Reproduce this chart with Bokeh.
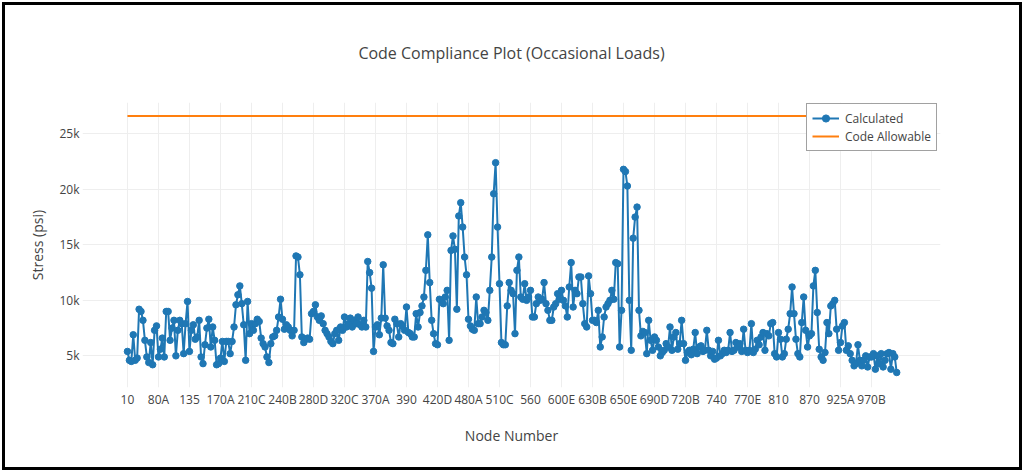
from bokeh.plotting import figure
from bokeh.models import Range1d, FixedTicker, Legend, LegendItem
from bokeh.embed import file_html
from bokeh.resources import INLINE

# ---- data ----
node_ticks = ["10", "80A", "135", "170A", "210C", "240B", "280D", "320C", "370A",
              "390", "420D", "480A", "510C", "560", "600E", "630B", "650E", "690D",
              "720B", "740", "770E", "810", "870", "925A", "970B"]
tick_every = 16  # one labelled node every 16 nodes

# Calculated stress, ksi, one row per labelled-tick span
stress_ksi = [
    5.4, 4.6, 4.5, 6.9, 4.6, 4.8, 9.2, 9.0, 8.2, 6.4, 4.9, 4.4, 6.2, 4.2, 7.3, 7.7,
    4.9, 5.6, 6.6, 4.9, 9.0, 9.0, 6.4, 7.5, 8.2, 5.0, 7.3, 8.2, 7.9, 5.2, 7.9, 9.9,
    5.4, 7.3, 7.8, 6.5, 6.7, 8.2, 4.9, 4.3, 6.0, 7.5, 8.3, 5.8, 7.6, 6.4, 4.2, 4.3,
    4.8, 6.3, 4.5, 6.3, 6.3, 5.2, 6.3, 7.6, 9.6, 10.5, 11.3, 9.7, 7.8, 4.6, 9.9, 7.0,
    7.9, 7.3, 7.9, 8.3, 8.1, 6.6, 6.1, 5.8, 4.9, 4.4, 6.1, 6.7, 6.8, 7.3, 8.5, 10.1,
    8.3, 7.4, 7.8, 7.6, 7.3, 6.8, 7.3, 14.0, 13.9, 12.3, 6.7, 6.2, 6.5, 6.6, 6.5, 8.8,
    9.0, 9.6, 8.5, 8.2, 8.6, 7.9, 7.3, 7.0, 6.7, 6.3, 6.1, 7.0, 7.3, 6.4, 7.6, 7.3,
    8.5, 7.6, 7.9, 8.4, 7.6, 8.2, 7.9, 8.5, 7.8, 7.6, 8.2, 7.6, 13.5, 12.5, 11.1, 5.4,
    7.6, 7.8, 6.9, 8.4, 13.2, 8.4, 7.7, 7.3, 6.2, 6.1, 8.3, 7.9, 6.7, 7.9, 7.7, 7.3,
    9.4, 7.1, 7.0, 6.7, 6.7, 8.8, 7.6, 8.9, 9.5, 10.3, 12.7, 15.9, 11.6, 8.2, 7.0, 6.1,
    6.0, 10.1, 10.0, 9.7, 10.3, 10.9, 6.4, 14.5, 15.8, 14.6, 9.2, 17.6, 18.8, 16.6, 13.9, 12.3,
    8.3, 7.7, 7.4, 7.3, 10.3, 7.9, 7.9, 8.5, 9.1, 8.9, 8.2, 10.9, 13.9, 19.6, 22.4, 16.6,
    11.5, 6.2, 6.0, 6.0, 9.5, 11.6, 10.9, 10.6, 7.0, 12.7, 13.9, 10.3, 10.1, 11.5, 10.0, 10.3,
    10.9, 8.5, 8.5, 9.7, 10.3, 10.0, 10.1, 11.6, 9.7, 9.1, 8.2, 8.2, 9.4, 9.7, 10.6, 10.1,
    10.9, 10.0, 9.5, 8.5, 11.2, 13.4, 9.4, 10.9, 10.6, 12.1, 12.1, 9.7, 7.9, 7.6, 12.2, 10.6,
    8.2, 8.2, 8.0, 9.1, 5.8, 6.7, 8.5, 9.4, 9.7, 10.0, 10.9, 10.1, 13.4, 13.3, 5.8, 9.1,
    21.8, 21.6, 20.3, 10.0, 5.5, 15.6, 17.5, 18.4, 9.1, 6.8, 7.2, 7.1, 5.2, 8.2, 6.4, 5.5,
    6.7, 6.4, 5.8, 5.0, 5.3, 5.5, 6.1, 5.8, 7.6, 5.5, 6.7, 7.1, 5.6, 6.1, 8.2, 6.1,
    4.6, 5.3, 5.5, 5.1, 5.6, 7.1, 5.2, 5.8, 5.9, 5.4, 5.5, 7.3, 5.5, 5.0, 5.4, 4.7,
    4.8, 6.4, 5.0, 5.2, 5.5, 5.3, 5.5, 7.1, 5.4, 5.5, 6.2, 5.8, 6.1, 5.4, 7.4, 5.5,
    5.3, 5.5, 7.9, 5.3, 5.6, 6.4, 6.0, 6.7, 7.1, 5.5, 7.0, 6.8, 7.9, 8.0, 5.2, 4.9,
    7.1, 6.5, 4.9, 5.2, 6.5, 7.4, 8.8, 11.2, 8.8, 6.5, 5.2, 4.9, 8.0, 10.3, 7.3, 5.8,
    6.8, 7.0, 11.3, 12.7, 8.9, 5.6, 4.9, 4.6, 5.3, 8.0, 7.0, 9.5, 9.7, 10.0, 7.4, 5.5,
    6.2, 7.7, 8.0, 5.5, 5.9, 5.2, 4.6, 4.1, 4.3, 6.0, 4.6, 4.1, 4.6, 5.0, 4.0, 4.9,
    4.9, 5.2, 3.8, 5.0, 4.3, 5.2, 4.0, 4.6, 5.2, 5.3, 3.8, 5.2, 4.9, 3.5,
]
code_allowable_psi = 26600

y_ticks = [5000, 10000, 15000, 20000, 25000]
y_tick_labels = ["5k", "10k", "15k", "20k", "25k"]

# ---- derived ----
x = list(range(len(stress_ksi)))
stress_psi = [v * 1000 for v in stress_ksi]
allow_psi = [code_allowable_psi for _ in x]
tick_pos = [i * tick_every for i in range(len(node_ticks))]

FONT = "Open Sans"
TXT = "#444444"

W, H = 1024, 472
p = figure(width=W, height=H, output_backend="svg", toolbar_location=None,
           x_range=Range1d(-23.2, 419.6), y_range=Range1d(2150, 27820),
           min_border_left=82, min_border_right=84, min_border_top=102,
           min_border_bottom=85)
p.outline_line_color = None
p.background_fill_color = "white"
p.border_fill_color = "white"

# black picture frame drawn as an overlay on top of the whole figure
p.stylesheets = [
    ":host { position: relative; }"
    ":host::after { content: ''; position: absolute; left: 2px; top: 2px; "
    "right: 2px; bottom: 2px; border: 3px solid #000; pointer-events: none; "
    "z-index: 100; box-sizing: border-box; }"
]

p.title.text = "Code Compliance Plot (Occasional Loads)"
p.title.align = "center"
p.title.text_font = FONT
p.title.text_font_size = "16px"
p.title.text_font_style = "normal"
p.title.text_color = TXT
p.title.standoff = 78

l_calc = p.line(x, stress_psi, line_color="#1f77b4", line_width=2)
s_calc = p.scatter(x, stress_psi, size=6.5, fill_color="#1f77b4", line_color="#1f77b4")
l_allow = p.line(x, allow_psi, line_color="#ff7f0e", line_width=2)

p.xaxis.ticker = FixedTicker(ticks=tick_pos)
p.xaxis.major_label_overrides = {t: lbl for t, lbl in zip(tick_pos, node_ticks)}
p.yaxis.ticker = FixedTicker(ticks=y_ticks)
p.yaxis.major_label_overrides = {t: lbl for t, lbl in zip(y_ticks, y_tick_labels)}

for ax in (p.xaxis[0], p.yaxis[0]):
    ax.axis_line_color = None
    ax.major_tick_line_color = None
    ax.minor_tick_line_color = None
    ax.major_tick_out = 0
    ax.major_tick_in = 0
    ax.minor_tick_out = 0
    ax.minor_tick_in = 0
    ax.major_label_text_font = FONT
    ax.major_label_text_font_size = "12px"
    ax.major_label_text_color = TXT
    ax.axis_label_text_font = FONT
    ax.axis_label_text_font_size = "14px"
    ax.axis_label_text_font_style = "normal"
    ax.axis_label_text_color = TXT

p.xaxis.axis_label = "Node Number"
p.xaxis.major_label_standoff = 3
p.xaxis.axis_label_standoff = 15
p.yaxis.axis_label = "Stress (psi)"
p.yaxis.major_label_standoff = 3
p.yaxis.axis_label_standoff = 9

p.xgrid.grid_line_color = "#eeeeee"
p.ygrid.grid_line_color = "#eeeeee"
p.xgrid.grid_line_width = 1
p.ygrid.grid_line_width = 1

legend = Legend(items=[LegendItem(label="Calculated", renderers=[l_calc, s_calc]),
                       LegendItem(label="Code Allowable", renderers=[l_allow])],
                location=(724, 236), margin=0, padding=5, spacing=0,
                label_height=18, glyph_height=18, glyph_width=27, label_standoff=6,
                border_line_color="#444444", border_line_width=1,
                background_fill_color="white", background_fill_alpha=1.0,
                label_text_font=FONT, label_text_font_size="12px",
                label_text_color=TXT)
p.add_layout(legend)

open("out.html", "w").write(file_html(p, INLINE))
